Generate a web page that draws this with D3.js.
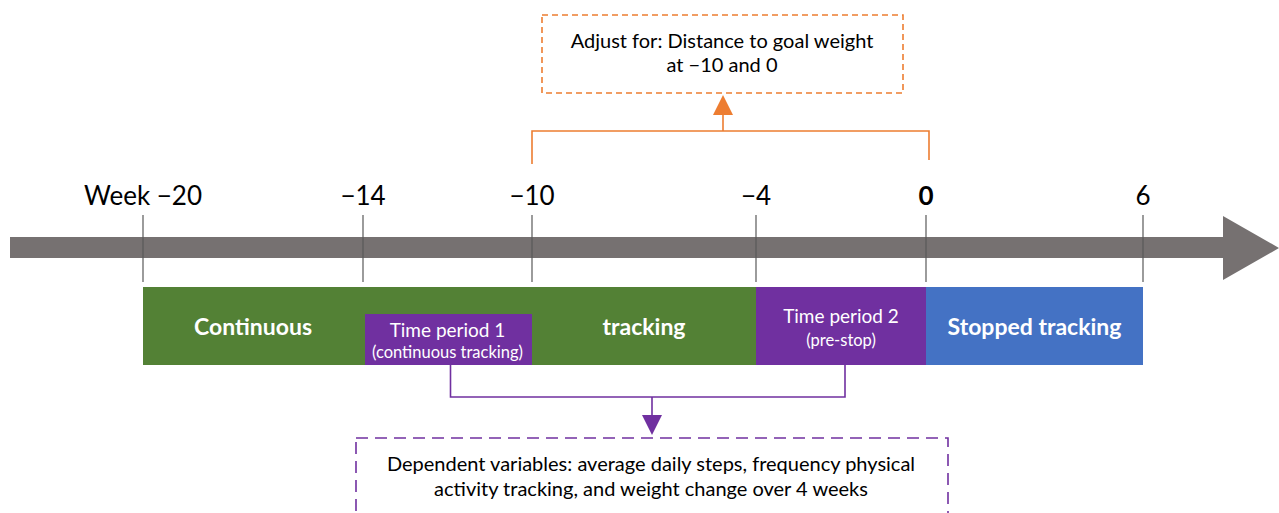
<!DOCTYPE html>
<html>
<head>
<meta charset="utf-8">
<script src="https://cdn.jsdelivr.net/npm/d3@7"></script>
<style>
  html, body { margin: 0; padding: 0; background: #fff; }
  svg { display: block; font-family: Lato, "Open Sans", sans-serif; }
</style>
</head>
<body>
<svg id="chart" width="1279" height="513"></svg>
<script>
// ---- data ----
const weeks = [-20, -14, -10, -4, 0, 6];
const tickLabels = ["Week \u221220", "\u221214", "\u221210", "\u22124", "0", "6"];
const tickBold = [false, false, false, false, true, false];

const phaseNames = ["Continuous tracking", "Time period 2", "Stopped tracking"];
const phaseStart = [-20, -4, 0];
const phaseEnd = [-4, 0, 6];

const periodName = "Time period 1";
const periodStart = -14;
const periodEnd = -10;

const barLabels = ["Continuous", "tracking", "Time period 2", "Stopped tracking"];
const barLabelFrom = [-20, -10, -4, 0];
const barLabelTo = [-14, -4, 0, 6];
const subLabels = ["(continuous tracking)", "(pre-stop)"];

const adjustText = ["Adjust for: Distance to goal weight", "at \u221210 and 0"];
const adjustWeeks = [-10, 0];
const dependentText = ["Dependent variables: average daily steps, frequency physical", "activity tracking, and weight change over 4 weeks"];

// ---- layout ----
const tickPx = [143, 363, 532, 756, 926, 1143];
const x = d3.scaleLinear().domain(weeks).range(tickPx);

const colors = {
  arrow: "#767171", green: "#538135", purple: "#7030A0", blue: "#4472C4",
  orange: "#ED7D31", tick: "#595959", text: "#000"
};
const phaseColors = [colors.green, colors.purple, colors.blue];

const svg = d3.select("#chart");

// main arrow
const shaftTop = 237, shaftBot = 258, headTop = 216, headBot = 280, headX = 1223;
svg.append("path")
  .attr("d", `M10,${shaftTop} L${headX},${shaftTop} L${headX},${headTop} L1279,248 L${headX},${headBot} L${headX},${shaftBot} L10,${shaftBot} Z`)
  .attr("fill", colors.arrow);

// ticks
svg.selectAll("line.tick").data(weeks).join("line")
  .attr("class", "tick")
  .attr("x1", d => x(d)).attr("x2", d => x(d))
  .attr("y1", 215).attr("y2", 282)
  .attr("stroke", colors.tick).attr("stroke-width", 1.2);

svg.selectAll("text.tickLabel").data(weeks).join("text")
  .attr("class", "tickLabel")
  .attr("x", d => x(d)).attr("y", 205)
  .attr("text-anchor", "middle")
  .attr("font-size", 26)
  .attr("font-weight", (d, i) => tickBold[i] ? "bold" : "normal")
  .attr("fill", colors.text)
  .text((d, i) => tickLabels[i]);

// phase bars
const barTop = 287, barBot = 365;
svg.selectAll("rect.phase").data(phaseNames).join("rect")
  .attr("class", "phase")
  .attr("x", (d, i) => x(phaseStart[i]))
  .attr("y", barTop)
  .attr("width", (d, i) => x(phaseEnd[i]) - x(phaseStart[i]))
  .attr("height", barBot - barTop)
  .attr("fill", (d, i) => phaseColors[i]);

// time period 1 inset
svg.append("rect")
  .attr("x", x(periodStart) + 2).attr("y", 314)
  .attr("width", x(periodEnd) - x(periodStart) - 2).attr("height", barBot - 314)
  .attr("fill", colors.purple);

svg.append("text")
  .attr("x", (x(periodStart) + x(periodEnd)) / 2).attr("y", 337)
  .attr("text-anchor", "middle").attr("fill", "#fff").attr("font-size", 19)
  .text(periodName);
svg.append("text")
  .attr("x", (x(periodStart) + x(periodEnd)) / 2).attr("y", 358)
  .attr("text-anchor", "middle").attr("fill", "#fff").attr("font-size", 16.5)
  .text(subLabels[0]);

// bar labels
const labelY = [335, 335, 323, 335];
const labelSize = [23, 23, 19, 23];
svg.selectAll("text.barLabel").data(barLabels).join("text")
  .attr("class", "barLabel")
  .attr("x", (d, i) => (x(barLabelFrom[i]) + x(barLabelTo[i])) / 2)
  .attr("y", (d, i) => labelY[i])
  .attr("text-anchor", "middle")
  .attr("font-size", (d, i) => labelSize[i])
  .attr("font-weight", (d, i) => labelSize[i] === 23 ? "bold" : "normal")
  .attr("fill", "#fff")
  .text(d => d);
svg.append("text")
  .attr("x", (x(-4) + x(0)) / 2).attr("y", 346)
  .attr("text-anchor", "middle").attr("fill", "#fff").attr("font-size", 16.5)
  .text(subLabels[1]);

// orange bracket
const bx0 = x(adjustWeeks[0]), bx1 = x(adjustWeeks[1]) + 3, bMid = 723;
svg.append("path")
  .attr("d", `M${bx0},164 L${bx0},131 L${bx1},131 L${bx1},160 M${bMid},131 L${bMid},114`)
  .attr("fill", "none").attr("stroke", colors.orange).attr("stroke-width", 1.6);
svg.append("path")
  .attr("d", `M${bMid - 10},115 L${bMid + 10},115 L${bMid},95 Z`)
  .attr("fill", colors.orange);
svg.append("rect")
  .attr("x", 542).attr("y", 15).attr("width", 361).attr("height", 78)
  .attr("fill", "none").attr("stroke", colors.orange).attr("stroke-width", 1.6)
  .attr("stroke-dasharray", "6,4");
svg.selectAll("text.adjust").data(adjustText).join("text")
  .attr("class", "adjust")
  .attr("x", 722).attr("y", (d, i) => 48 + i * 24)
  .attr("text-anchor", "middle").attr("font-size", 20).attr("fill", colors.text)
  .text(d => d);

// purple bracket
const p1 = (x(periodStart) + x(periodEnd)) / 2 + 3;
const p2 = (x(-4) + x(0)) / 2 + 4;
const pMid = 652;
svg.append("path")
  .attr("d", `M${p1},365 L${p1},397 L${p2},397 L${p2},365 M${pMid},397 L${pMid},416`)
  .attr("fill", "none").attr("stroke", colors.purple).attr("stroke-width", 1.6);
svg.append("path")
  .attr("d", `M${pMid - 10},415 L${pMid + 10},415 L${pMid},435 Z`)
  .attr("fill", colors.purple);
svg.append("rect")
  .attr("x", 356).attr("y", 438).attr("width", 592).attr("height", 100)
  .attr("fill", "none").attr("stroke", colors.purple).attr("stroke-width", 1.6)
  .attr("stroke-dasharray", "12,7");
svg.selectAll("text.dep").data(dependentText).join("text")
  .attr("class", "dep")
  .attr("x", 651).attr("y", (d, i) => 471 + i * 25)
  .attr("text-anchor", "middle").attr("font-size", 20).attr("fill", colors.text)
  .text(d => d);
</script>
</body>
</html>
